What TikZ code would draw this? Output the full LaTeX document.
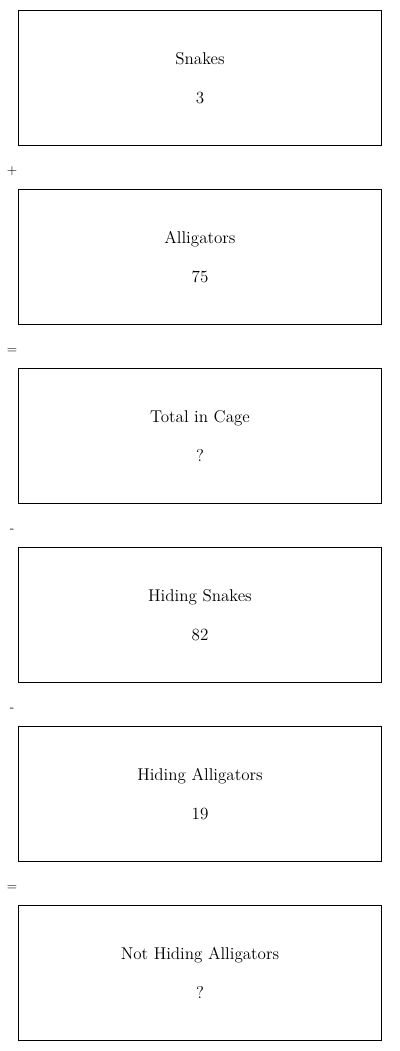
\documentclass[tikz,border=0pt]{standalone}
\begin{document}
\begin{tikzpicture}[x=0.75pt,y=-0.75pt,
  box/.style={draw=black,line width=0.75pt,minimum width=363*0.75pt,minimum height=135*0.75pt,inner sep=0pt},
  lbl/.style={font=\fontsize{12.8pt}{15pt}\selectfont,inner sep=0pt,anchor=base},
  op/.style={font=\fontsize{10pt}{12pt}\selectfont,inner sep=0pt,anchor=base}]
\useasboundingbox (0,0) rectangle (400,1051);
\foreach \i/\t/\v in {0/Snakes/3,1/Alligators/75,2/Total in Cage/?,3/Hiding Snakes/82,4/Hiding Alligators/19,5/Not Hiding Alligators/?}{
  \node[box] (b\i) at (200,78+179*\i) {};
  \node[lbl] (t\i) at (200,64+179*\i) {\t};
  \node[lbl] (v\i) at (200,103+179*\i) {\v};
}
\foreach \i/\o in {0/+,1/=,2/-,3/-,4/=}{
  \node[op] (o\i) at (12,174+179*\i) {\o};
}
\end{tikzpicture}
\end{document}
